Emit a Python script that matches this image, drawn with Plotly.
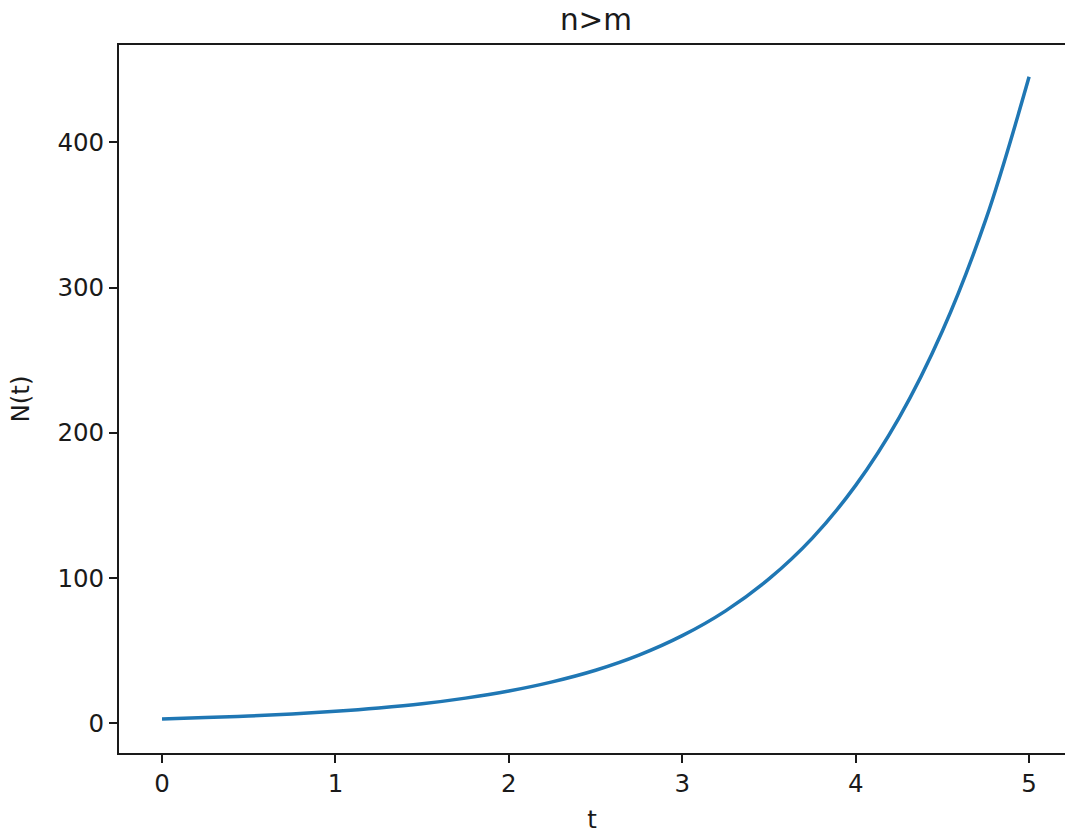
import plotly.graph_objects as go

# values
t_values = [0.0, 0.25, 0.5, 0.75, 1.0, 1.25, 1.5, 1.75, 2.0, 2.25, 2.5,
            2.75, 3.0, 3.25, 3.5, 3.75, 4.0, 4.25, 4.5, 4.75, 5.0]
n_values = [3.0, 3.9, 4.9, 6.4, 8.2, 10.5, 13.4, 17.3, 22.2, 28.5, 36.5,
            46.9, 60.3, 77.4, 99.4, 127.5, 163.8, 210.3, 270.1, 346.8, 445.2]
x_ticks = [0, 1, 2, 3, 4, 5]
y_ticks = [0, 100, 200, 300, 400]
title_text = "n>m"
x_label = "t"
y_label = "N(t)"

FONT = "DejaVu Sans"
W, H = 1065, 834
fig = go.Figure()
fig.add_trace(go.Scatter(x=t_values, y=n_values, mode="lines",
                         line=dict(color="#1f77b4", width=3.5, shape="spline"),
                         showlegend=False, hoverinfo="skip"))

fig.update_layout(
    width=W, height=H,
    margin=dict(l=119, r=0, t=45, b=77),
    paper_bgcolor="white", plot_bgcolor="white",
    font=dict(family=FONT, size=24.5, color="#1a1a1a"),
    title=dict(text=title_text, x=596 / W, xanchor="center",
               y=1 - 20 / H, yanchor="middle",
               font=dict(family=FONT, size=29.5, color="#1a1a1a")),
)
fig.update_xaxes(
    range=[-0.248, 5.207], tickvals=x_ticks, ticktext=[str(v) for v in x_ticks],
    showgrid=False, zeroline=False, showline=True, linecolor="#1a1a1a", linewidth=1.8,
    mirror=True, ticks="outside", ticklen=8, tickwidth=1.8, tickcolor="#1a1a1a",
    title=dict(text=x_label, standoff=19, font=dict(family=FONT, size=24.5)),
)
fig.update_yaxes(
    range=[-20.5, 467.1], tickvals=y_ticks, ticktext=[str(v) for v in y_ticks],
    showgrid=False, zeroline=False, showline=True, linecolor="#1a1a1a", linewidth=1.8,
    ticks="outside", ticklen=8, tickwidth=1.8, tickcolor="#1a1a1a",
    title=dict(text=y_label, standoff=21, font=dict(family=FONT, size=24.5)),
)
fig.write_html(
    "out.html",
    config={"displayModeBar": False},
    post_script="document.body.style.margin='0';document.body.style.overflow='hidden';",
)
